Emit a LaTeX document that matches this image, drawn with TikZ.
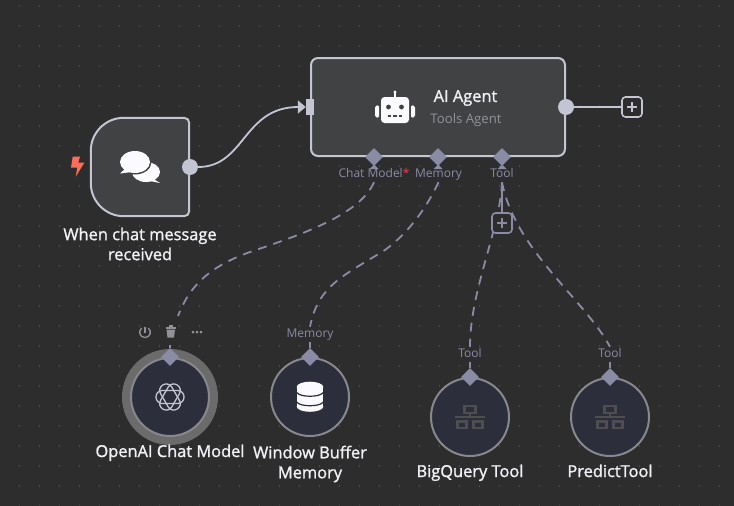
\documentclass[tikz,border=0pt]{standalone}
\usepackage{fontspec}
\setmainfont{Open Sans}
\newfontfamily\namefont[FakeBold=1.4]{Open Sans}
\usepackage{xcolor}
\usetikzlibrary{arrows.meta,shapes.geometric}
\definecolor{figback}{RGB}{45,45,46}
\definecolor{figdot}{RGB}{125,125,128}
\definecolor{figbox}{RGB}{65,66,68}
\definecolor{figline}{RGB}{195,197,210}
\definecolor{figport}{RGB}{138,139,165}
\definecolor{figround}{RGB}{45,46,60}
\definecolor{figedge}{RGB}{135,135,140}
\definecolor{fighalo}{RGB}{107,107,107}
\definecolor{figtext}{RGB}{240,240,245}
\definecolor{figsub}{RGB}{145,146,152}
\definecolor{figicon}{RGB}{251,251,255}
\definecolor{figdim}{RGB}{78,78,80}
\definecolor{figbolt}{RGB}{255,109,90}
\definecolor{figstar}{RGB}{240,60,80}
\tikzset{
  agentbox/.style={draw=figline, rounded corners=7pt, line width=2pt, fill=figbox, minimum width=254pt, minimum height=98pt, inner sep=0pt},
  roundbox/.style={circle, draw=figedge, line width=2pt, fill=figround, minimum size=78pt, inner sep=0pt},
  outdot/.style={circle, fill=figline, minimum size=16pt, inner sep=0pt},
  inport/.style={fill=figline, minimum width=8pt, minimum height=16pt, inner sep=0pt},
  subport/.style={diamond, aspect=1, fill=figport, minimum size=18pt, inner sep=0pt},
  plusbox/.style={draw=#1, rounded corners=3.5pt, line width=1.6pt, fill=figback, minimum size=20pt, inner sep=0pt,
    path picture={\draw[#1, line width=1.5pt] (path picture bounding box.center) +(-4.8,0) -- +(4.8,0) (path picture bounding box.center) +(0,-4.8) -- +(0,4.8);}},
  line/.style={draw=figline, line width=2pt},
  subline/.style={draw=figport, line width=1.8pt},
  dashline/.style={draw=figport, line width=1.8pt, dash pattern=on 9pt off 7pt},
  figtitle/.style={font=\fontsize{16.4}{20}\namefont, text=figtext, align=center, inner sep=0pt},
  figport label/.style={font=\fontsize{12}{14}\selectfont, text=figport, inner sep=1.5pt, text height=9pt, text depth=3pt},
  netpart/.style={draw=figdim, line width=2.3pt}
}
\begin{document}
\begin{tikzpicture}[x=1pt,y=-1pt]
  \fill[figback] (0,0) rectangle (734,506);
  \useasboundingbox (0,0) rectangle (734,506);
  \foreach \i in {0,...,35} \foreach \j in {0,...,25}
    \fill[figdot] (19.3+20*\i,6+20*\j) circle (0.55pt);

  \node[minimum width=98pt, minimum height=98pt, inner sep=0pt] (trigger) at (140,167) {};
  \draw[line, fill=figbox] (trigger.north east) [rounded corners=5pt] -- (trigger.south east) [rounded corners=33pt] -- (trigger.south west) -- (trigger.north west) [rounded corners=5pt] -- cycle;
  \node[agentbox] (agent) at (438,107) {};
  \node[figtitle] (triggerName) at (140,244) {When chat message\\received};
  \node[figtitle] (agentName) at (465.5,98) {AI Agent};
  \node[font=\fontsize{13.2}{15}\selectfont, text=figsub, inner sep=0pt] (agentSub) at (466,120) {Tools Agent};

  \node[outdot] (triggerOut) at (190,167) {};
  \node[inport] (agentIn) at (310,107) {};
  \node[outdot] (agentOut) at (566,107) {};
  \node[plusbox=figline] (agentPlus) at (632,107) {};
  \draw[line, line width=1.8pt, -{Triangle[length=8pt,width=13pt]}] (triggerOut) .. controls (245,167) and (243,107) .. (agentIn.west);
  \draw[line] (agentOut) -- (agentPlus);

  \node[roundbox, draw=fighalo, line width=9pt, minimum size=87pt] (modelHalo) at (170,397) {};
  \node[roundbox] (model) at (170,397) {};
  \node[roundbox] (memory) at (310,397) {};
  \node[roundbox] (bigquery) at (470,417) {};
  \node[roundbox] (predict) at (610,417) {};

  \node[subport] (modelIn) at (374,157) {};
  \node[subport] (memoryIn) at (438,157) {};
  \node[subport] (toolIn) at (502,157) {};
  \node[subport] (modelOut) at (170,357) {};
  \node[subport] (memoryOut) at (310,357) {};
  \node[subport] (bigqueryOut) at (470,377) {};
  \node[subport] (predictOut) at (610,377) {};
  \foreach \x in {374,438,502}
    \fill[figport] (\x,164.5) -- (\x+4.5,169) -- (\x-4.5,169) -- cycle;

  \node[figport label] (modelLabel) at (374,174.5) {Chat Model\textcolor{figstar}{*}};
  \node[figport label] (memoryLabel) at (438.5,174.5) {Memory};
  \node[figport label] (toolLabel) at (502,174.5) {Tool};
  \node[figport label] (memoryUp) at (310,334.5) {Memory};
  \node[figport label] (bigqueryUp) at (470,354.5) {Tool};
  \node[figport label] (predictUp) at (610,354.5) {Tool};

  \coordinate (modelEnd) at (178,316);
  \coordinate (modelStub) at (170,345);
  \draw[dashline] (modelLabel.south) .. controls (360,215) and (300,235) .. (250,252) .. controls (205,268) and (188,290) .. (modelEnd);
  \draw[dashline] (memoryLabel.south) .. controls (428,205) and (410,232) .. (385,250) .. controls (345,275) and (318,285) .. (memoryUp.north);
  \draw[dashline] (toolLabel.south) .. controls (500,230) and (470,290) .. (bigqueryUp.north);
  \draw[dashline] (toolLabel.south) .. controls (515,250) and (585,300) .. (predictUp.north);
  \draw[subline] (modelStub) -- (modelOut);
  \draw[subline] (memoryUp.south) -- (memoryOut);
  \draw[subline] (bigqueryUp.south) -- (bigqueryOut);
  \draw[subline] (predictUp.south) -- (predictOut);
  \draw[subline] (toolLabel.south) -- (502,213);
  \node[plusbox=figport] (toolPlus) at (502,223) {};

  \node[figtitle, text height=12pt, text depth=4pt] (modelName) at (170,453) {OpenAI Chat Model};
  \node[figtitle] (memoryName) at (310,464) {Window Buffer\\Memory};
  \node[figtitle, text height=12pt, text depth=4pt] (bigqueryName) at (470,473) {BigQuery Tool};
  \node[figtitle, text height=12pt, text depth=4pt] (predictName) at (610,473) {PredictTool};

  \fill[figbolt] (72.7,156.7) -- (80,156.7) -- (78.3,162.7) -- (84.3,162.7) -- (75.7,176.7) -- (77.3,167.7) -- (71,167.7) -- cycle;

  \fill[figicon] (146,172) ellipse [x radius=14pt, y radius=10pt];
  \fill[figicon] (152,178) -- (160,183) -- (150,181) -- cycle;
  \fill[figbox] (135,162) ellipse [x radius=16.5pt, y radius=12.5pt];
  \fill[figicon] (135,162) ellipse [x radius=15pt, y radius=11pt];
  \fill[figicon] (126,168) -- (120,173.5) -- (132,172) -- cycle;

  \fill[figicon, rounded corners=3.5pt] (381,97) rectangle (409,123);
  \fill[figicon] (394,92) rectangle (396,98);
  \fill[figicon] (395,92) circle (1.6pt);
  \fill[figicon, rounded corners=1.5pt] (375,106) -- (379,105) -- (379,118) -- (375,117) -- cycle;
  \fill[figicon, rounded corners=1.5pt] (415,106) -- (411,105) -- (411,118) -- (415,117) -- cycle;
  \fill[figbox] (388.5,107) circle (2.4pt) (401.5,107) circle (2.4pt);
  \draw[figbox, line width=1.4pt, dash pattern=on 3.6pt off 2pt] (387.5,116) -- (403,116);

  \foreach \ang in {0,60,120}
    \draw[figline, line width=1.3pt, rounded corners=6.3pt, rotate around={\ang:(170,397)}] (156,390.5) rectangle (184,403.5);

  \fill[figicon] (296.7,387) rectangle (323.3,407);
  \fill[figicon] (310,387) ellipse [x radius=13.3pt, y radius=5.3pt];
  \fill[figicon] (310,406.5) ellipse [x radius=13.3pt, y radius=5.3pt];
  \draw[figround, line width=1.2pt] (296.7,392.5) .. controls (300,397.5) and (320,397.5) .. (323.3,392.5);
  \draw[figround, line width=1.2pt] (296.7,402) .. controls (300,407) and (320,407) .. (323.3,402);

  \foreach \x/\y in {470/417,610/417} {
    \draw[netpart] (\x-5.5,\y-11) rectangle (\x+5.5,\y-4);
    \draw[netpart] (\x,\y-4) -- (\x,\y+1);
    \draw[netpart] (\x-15,\y) -- (\x+15,\y);
    \draw[netpart] (\x-12.5,\y+4.5) rectangle (\x-3.5,\y+11);
    \draw[netpart] (\x+3.5,\y+4.5) rectangle (\x+12.5,\y+11);
  }

  \draw[figsub, line width=1.3pt] (141.7,328) .. controls (138,331) and (139.5,337.5) .. (145,337.5) .. controls (150.5,337.5) and (152,331) .. (148.3,328);
  \draw[figsub, line width=1.3pt] (145,326.5) -- (145,332.5);
  \fill[figsub] (165.5,326.5) rectangle (176,328.5);
  \fill[figsub] (169,325.3) rectangle (172.5,327);
  \fill[figsub] (166.5,329.5) -- (175,329.5) -- (174,337.7) -- (167.5,337.7) -- cycle;
  \fill[figsub] (193,332) circle (1.5pt) (197,332) circle (1.5pt) (201,332) circle (1.5pt);
\end{tikzpicture}
\end{document}
